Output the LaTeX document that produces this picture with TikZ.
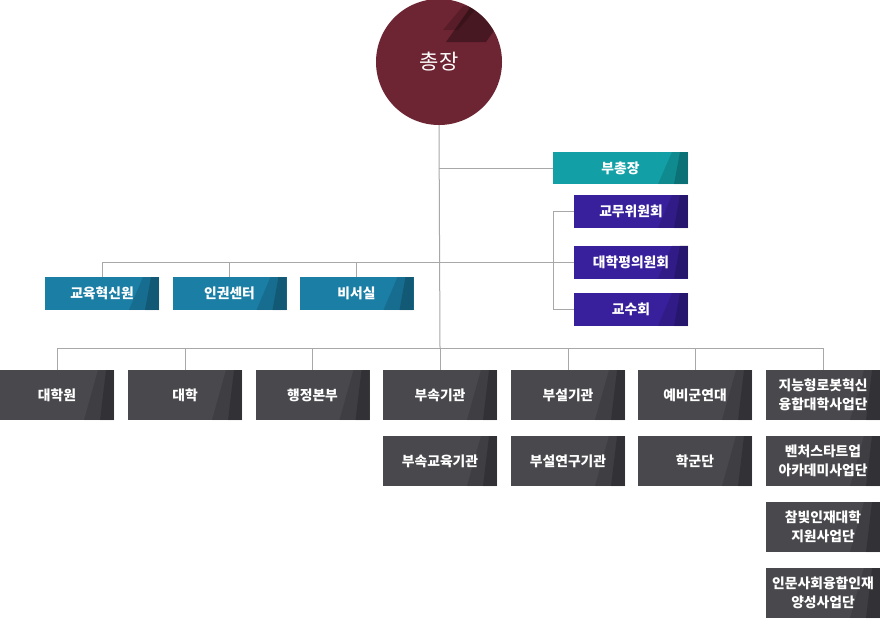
\documentclass[tikz,border=0pt]{standalone}
\usepackage{fontspec}
\newfontfamily\kr{Noto Sans CJK KR}
\usetikzlibrary{calc}
\definecolor{maroon}{HTML}{6E2533}
\definecolor{tealc}{HTML}{12A0A6}
\definecolor{purp}{HTML}{38209C}
\definecolor{bluec}{HTML}{1A7EA5}
\definecolor{darkc}{HTML}{48484D}
\definecolor{linec}{HTML}{A8A8A8}
\tikzset{
  orgbox/.style={rectangle, inner sep=0pt, text=white, align=center,
    font=\kr\bfseries\fontsize{13.8}{19.5}\selectfont,
    minimum width=114pt, minimum height=33pt,
    path picture={
      \fill[black,opacity=.13] ([xshift=-30pt]path picture bounding box.south east) -- ([xshift=-16pt]path picture bounding box.north east) -- (path picture bounding box.north east) -- (path picture bounding box.south east) -- cycle;
      \fill[black,opacity=.18] ([xshift=-14pt]path picture bounding box.south east) -- ([xshift=-8pt]path picture bounding box.north east) -- (path picture bounding box.north east) -- (path picture bounding box.south east) -- cycle;
    }},
  darkbox/.style={orgbox, fill=darkc, minimum height=50pt},
  conn/.style={draw=linec, line width=1pt}
}
\begin{document}
\begin{tikzpicture}[x=1pt,y=-1pt]
\useasboundingbox (0,0) rectangle (880,627);
\fill[white] (0,0) rectangle (880,627);
% chief circle
\node[circle, fill=maroon, minimum size=126pt, inner sep=0pt, text=white,
  font=\kr\fontsize{21}{24}\selectfont] (chief) at (439,62) {총장};
\begin{scope}
  \clip (439,62) circle (63);
  \fill[black,opacity=.2] (443,30) -- (463,6) -- (478,6) -- (458,30) -- cycle;
  \fill[black,opacity=.35] (446,42) -- (470,8) -- (510,8) -- (486,42) -- cycle;
  \fill[black,opacity=.25] (468,8) -- (485,-5) -- (510,-5) -- (500,8) -- cycle;
\end{scope}
% bus coordinates
\coordinate (mid) at (440,262);
\coordinate (bus) at (440,348);
\coordinate (brk) at (553,262);
% vice president
\node[orgbox, fill=tealc, minimum width=135pt, minimum height=32pt] (vp) at (620.5,168) {부총장};
% purple
\node[orgbox, fill=purp] (p1) at (631,211.5) {교무위원회};
\node[orgbox, fill=purp] (p2) at (631,262) {대학평의원회};
\node[orgbox, fill=purp] (p3) at (631,309.5) {교수회};
% blue
\node[orgbox, fill=bluec] (b1) at (102,293.5) {교육혁신원};
\node[orgbox, fill=bluec] (b2) at (229.5,293.5) {인권센터};
\node[orgbox, fill=bluec] (b3) at (356.5,293.5) {비서실};
% dark row 1
\node[darkbox] (d1) at (57,395) {대학원};
\node[darkbox] (d2) at (185,395) {대학};
\node[darkbox] (d3) at (312.5,395) {행정본부};
\node[darkbox] (d4) at (440,395) {부속기관};
\node[darkbox] (d5) at (568,395) {부설기관};
\node[darkbox] (d6) at (695,395) {예비군연대};
\node[darkbox] (d7) at (823,395) {지능형로봇혁신\\융합대학사업단};
% row 2
\node[darkbox] (e4) at (440,461) {부속교육기관};
\node[darkbox] (e5) at (568,461) {부설연구기관};
\node[darkbox] (e6) at (695,461) {학군단};
\node[darkbox] (e7) at (823,461) {벤처스타트업\\아카데미사업단};
\node[darkbox] (f7) at (823,527) {참빛인재대학\\지원사업단};
\node[darkbox] (g7) at (823,593) {인문사회융합인재\\양성사업단};
% connectors
\draw[conn] (chief.south) -- (bus);
\draw[conn] (chief.south |- vp.west) -- (vp.west);
\draw[conn] (b1.north |- mid) -- (p2.west);
\draw[conn] (b1.north |- mid) -- (b1.north);
\draw[conn] (b2.north |- mid) -- (b2.north);
\draw[conn] (b3.north |- mid) -- (b3.north);
\draw[conn] (p1.west) -- (brk |- p1.west) -- (brk |- p3.west) -- (p3.west);
\draw[conn] (d1.north |- bus) -- (d7.north |- bus);
\foreach \n in {d1,d2,d3,d4,d5,d6,d7} {\draw[conn] (\n.north |- bus) -- (\n.north);}
\end{tikzpicture}
\end{document}
